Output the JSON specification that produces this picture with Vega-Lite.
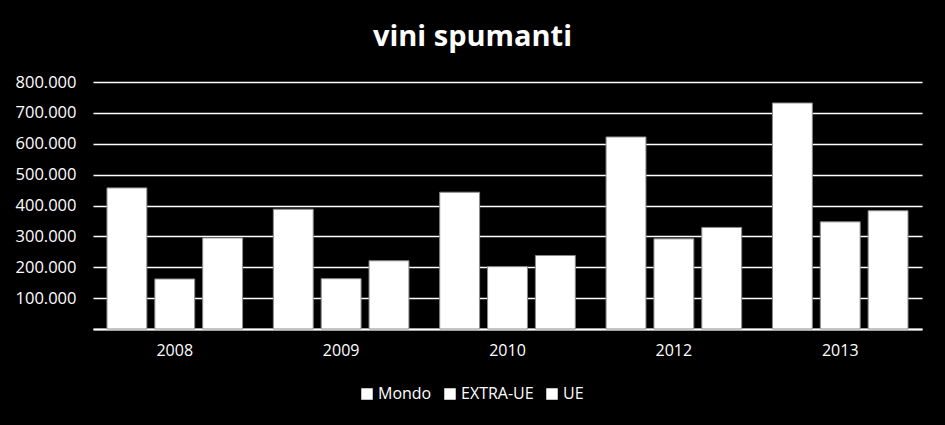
{
  "$schema": "https://vega.github.io/schema/vega-lite/v6.json",
  "width": 829,
  "height": 247,
  "autosize": {"type": "none"},
  "padding": {"left": 93, "top": 82, "right": 23, "bottom": 96},
  "background": "#000000",
  "config": {
    "view": {"stroke": null},
    "locale": {"number": {"decimal": ",", "thousands": ".", "grouping": [3], "currency": ["€", ""]}},
    "font": "Open Sans"
  },
  "title": {
    "text": "vini spumanti",
    "color": "white",
    "fontSize": 29,
    "fontWeight": "bold",
    "font": "Open Sans",
    "anchor": "middle",
    "dx": -35,
    "offset": 22
  },
  "data": {
    "values": [
      {"anno": "2008", "serie": "Mondo", "valore": 457000},
      {"anno": "2008", "serie": "EXTRA-UE", "valore": 162000},
      {"anno": "2008", "serie": "UE", "valore": 295000},
      {"anno": "2009", "serie": "Mondo", "valore": 388000},
      {"anno": "2009", "serie": "EXTRA-UE", "valore": 163000},
      {"anno": "2009", "serie": "UE", "valore": 221000},
      {"anno": "2010", "serie": "Mondo", "valore": 443000},
      {"anno": "2010", "serie": "EXTRA-UE", "valore": 202000},
      {"anno": "2010", "serie": "UE", "valore": 238000},
      {"anno": "2012", "serie": "Mondo", "valore": 622000},
      {"anno": "2012", "serie": "EXTRA-UE", "valore": 292000},
      {"anno": "2012", "serie": "UE", "valore": 329000},
      {"anno": "2013", "serie": "Mondo", "valore": 732000},
      {"anno": "2013", "serie": "EXTRA-UE", "valore": 347000},
      {"anno": "2013", "serie": "UE", "valore": 383000}
    ]
  },
  "mark": {"type": "bar", "stroke": "#8a8a8a", "strokeWidth": 1},
  "encoding": {
    "x": {
      "field": "anno",
      "type": "nominal",
      "scale": {"paddingInner": 0.185, "paddingOuter": 0.084},
      "axis": {
        "title": null,
        "labelAngle": 0,
        "labelColor": "white",
        "labelFontSize": 16,
        "labelPadding": 13,
        "ticks": false,
        "domainColor": "white",
        "domainWidth": 2,
        "grid": false
      }
    },
    "xOffset": {
      "field": "serie",
      "type": "nominal",
      "sort": ["Mondo", "EXTRA-UE", "UE"],
      "scale": {"paddingInner": 0.1667, "paddingOuter": 0}
    },
    "y": {
      "field": "valore",
      "type": "quantitative",
      "scale": {"domain": [0, 800000], "nice": false},
      "axis": {
        "title": null,
        "values": [0, 100000, 200000, 300000, 400000, 500000, 600000, 700000, 800000],
        "format": ",.0f",
        "labelExpr": "datum.value == 0 ? '' : datum.label",
        "labelColor": "white",
        "labelFontSize": 16.5,
        "labelPadding": 17,
        "ticks": false,
        "domain": false,
        "gridColor": "white",
        "gridWidth": 1.3,
        "gridOpacity": 1
      }
    },
    "color": {
      "field": "serie",
      "type": "nominal",
      "sort": ["Mondo", "EXTRA-UE", "UE"],
      "scale": {"domain": ["Mondo", "EXTRA-UE", "UE"], "range": ["#ffffff", "#ffffff", "#ffffff"]},
      "legend": {
        "title": null,
        "orient": "none",
        "direction": "horizontal",
        "legendX": 266,
        "legendY": 304,
        "symbolType": "square",
        "symbolSize": 100,
        "symbolFillColor": "white",
        "symbolStrokeColor": "white",
        "labelColor": "white",
        "labelFontSize": 16,
        "labelOffset": 3,
        "columnPadding": 10
      }
    }
  }
}
